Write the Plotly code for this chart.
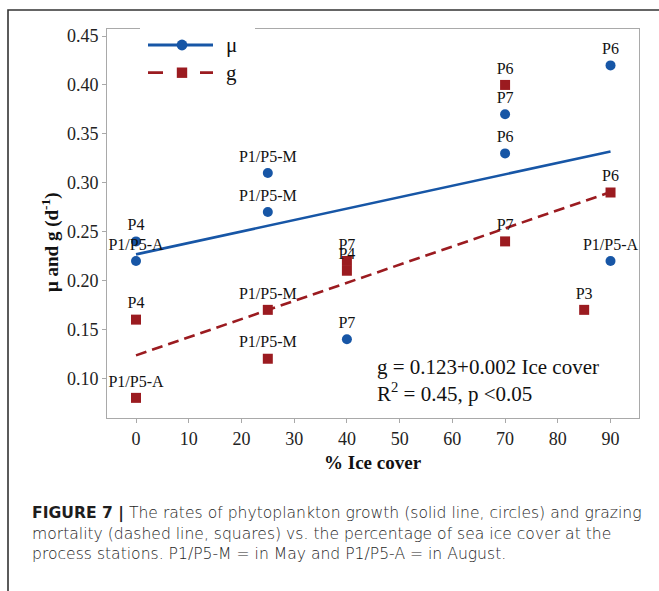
import numpy as np
import plotly.graph_objects as go

# Phytoplankton growth rate (mu, d^-1) vs. % ice cover at the process stations
mu_ice = [0, 0, 25, 25, 40, 70, 70, 90, 90]
mu_rate = [0.24, 0.22, 0.31, 0.27, 0.14, 0.37, 0.33, 0.42, 0.22]
mu_station = ["P4", "P1/P5-A", "P1/P5-M", "P1/P5-M", "P7", "P7", "P6", "P6", "P1/P5-A"]

# Grazing mortality rate (g, d^-1) vs. % ice cover
g_ice = [0, 0, 25, 25, 40, 40, 70, 70, 85, 90]
g_rate = [0.16, 0.08, 0.17, 0.12, 0.22, 0.21, 0.40, 0.24, 0.17, 0.29]
g_station = ["P4", "P1/P5-A", "P1/P5-M", "P1/P5-M", "P7", "P4", "P6", "P7", "P3", "P6"]

x_ticks = [0, 10, 20, 30, 40, 50, 60, 70, 80, 90]
y_ticks = [0.10, 0.15, 0.20, 0.25, 0.30, 0.35, 0.40, 0.45]

caption_lines = [
    "<b>FIGURE 7 |</b> The rates of phytoplankton growth (solid line, circles) and grazing",
    "mortality (dashed line, squares) vs. the percentage of sea ice cover at the",
    "process stations. P1/P5-M = in May and P1/P5-A = in August.",
]

BLUE = "#1756a6"
RED = "#9b1b20"
SERIF = "Liberation Serif, Times New Roman, serif"
SANS = "DejaVu Sans, Liberation Sans, Arial, sans-serif"

# Figure and plot-box geometry (pixels)
W, H = 659, 591
L, R, T, B = 107, 639, 29, 418


def px(x):
    return (x - L) / (R - L)


def py(y):
    return (B - y) / (B - T)


# Least-squares fits
mu_slope, mu_int = np.polyfit(mu_ice, mu_rate, 1)
g_slope, g_int = np.polyfit(g_ice, g_rate, 1)
g_r2 = np.corrcoef(g_ice, g_rate)[0, 1] ** 2

mu_fit_x = np.array([min(mu_ice), max(mu_ice)])
g_fit_x = np.array([min(g_ice), max(g_ice)])

fig = go.Figure()

fig.add_trace(go.Scatter(
    x=mu_fit_x, y=mu_int + mu_slope * mu_fit_x, mode="lines",
    line=dict(color=BLUE, width=2.6), hoverinfo="skip"))
fig.add_trace(go.Scatter(
    x=g_fit_x, y=g_int + g_slope * g_fit_x, mode="lines",
    line=dict(color=RED, width=2.6, dash="11px,6px"), hoverinfo="skip"))

fig.add_trace(go.Scatter(
    x=mu_ice, y=mu_rate, text=mu_station, mode="markers+text",
    textposition="top center", textfont=dict(family=SERIF, size=16, color="#111"),
    marker=dict(symbol="circle", size=10, color=BLUE), name="μ"))
fig.add_trace(go.Scatter(
    x=g_ice, y=g_rate, text=g_station, mode="markers+text",
    textposition="top center", textfont=dict(family=SERIF, size=16, color="#111"),
    marker=dict(symbol="square", size=10, color=RED), name="g"))

axis_common = dict(
    showline=True, linecolor="#a9a9a9", linewidth=1, mirror=True,
    ticks="outside", ticklen=4, tickcolor="#a9a9a9", tickwidth=1,
    showgrid=False, zeroline=False,
    tickfont=dict(family=SERIF, size=18, color="#222"),
)

fig.update_xaxes(range=[-5.5, 95.4], tickvals=x_ticks,
                 ticktext=[str(v) for v in x_ticks], **axis_common)
fig.update_yaxes(range=[0.0594, 0.4572], tickvals=y_ticks,
                 ticktext=[f"{v:.2f}" for v in y_ticks], **axis_common)

shapes = []
# outer figure frame (top and left edges visible)
shapes.append(dict(type="rect", xref="paper", yref="paper",
                   x0=px(8), x1=px(W + 40), y0=py(10), y1=py(H + 40),
                   line=dict(color="#333333", width=1.6), layer="above"))

# legend: white backing box, line samples and markers
shapes.append(dict(type="rect", xref="paper", yref="paper",
                   x0=px(140), x1=px(255), y0=py(22), y1=py(88),
                   fillcolor="white", line=dict(width=0), layer="above"))
leg_y1, leg_y2 = py(45), py(72.7)
shapes.append(dict(type="line", xref="paper", yref="paper",
                   x0=px(148), x1=px(213), y0=leg_y1, y1=leg_y1,
                   line=dict(color=BLUE, width=2.8), layer="above"))
shapes.append(dict(type="line", xref="paper", yref="paper",
                   x0=px(148), x1=px(213), y0=leg_y2, y1=leg_y2,
                   line=dict(color=RED, width=2.8, dash="15px,37px"), layer="above"))
shapes.append(dict(type="circle", xref="paper", yref="paper",
                   xsizemode="pixel", ysizemode="pixel",
                   xanchor=px(182), yanchor=leg_y1, x0=-5.4, x1=5.4, y0=-5.4, y1=5.4,
                   fillcolor=BLUE, line=dict(width=0), layer="above"))
shapes.append(dict(type="rect", xref="paper", yref="paper",
                   xsizemode="pixel", ysizemode="pixel",
                   xanchor=px(182), yanchor=leg_y2, x0=-5.2, x1=5.2, y0=-5.2, y1=5.2,
                   fillcolor=RED, line=dict(width=0), layer="above"))

annotations = [
    dict(text="μ", x=px(224), y=leg_y1, xref="paper", yref="paper",
         xanchor="left", yanchor="middle", showarrow=False,
         font=dict(family=SERIF, size=21, color="#111")),
    dict(text="g", x=px(224), y=leg_y2, xref="paper", yref="paper",
         xanchor="left", yanchor="middle", showarrow=False,
         font=dict(family=SERIF, size=21, color="#111")),
    # regression statement for g
    dict(text=f"g = {g_int:.3f}+{g_slope:.3f} Ice cover", x=px(375), y=py(366.5),
         xref="paper", yref="paper", xanchor="left", yanchor="middle",
         showarrow=False, font=dict(family=SERIF, size=21, color="#111")),
    dict(text=f"R<sup>2</sup> = {g_r2:.2f}, p &lt;0.05", x=px(375), y=py(392.5),
         xref="paper", yref="paper", xanchor="left", yanchor="middle",
         showarrow=False, font=dict(family=SERIF, size=21, color="#111")),
    # axis titles
    dict(text="<b>% Ice cover</b>", x=px(373), y=py(462.5), xref="paper", yref="paper",
         xanchor="center", yanchor="middle", showarrow=False,
         font=dict(family=SERIF, size=19, color="#111")),
    dict(text="<b>μ and g (d<sup>-1</sup>)</b>", x=px(50), y=py(243), xref="paper",
         yref="paper", xanchor="center", yanchor="middle", textangle=-90,
         showarrow=False, font=dict(family=SERIF, size=19, color="#111")),
]

# caption, one annotation per line
for line_text, y_px in zip(caption_lines, [513, 534, 554]):
    annotations.append(dict(
        text=line_text, x=px(30), y=py(y_px), xref="paper", yref="paper",
        xanchor="left", yanchor="middle", align="left", showarrow=False,
        font=dict(family=SANS, size=15.6, color="#1e1e1e", weight=300)))

fig.update_layout(
    width=W, height=H,
    margin=dict(l=L, r=W - R, t=T, b=H - B, pad=0),
    paper_bgcolor="white", plot_bgcolor="white",
    showlegend=False,
    shapes=shapes, annotations=annotations,
)

fig.write_html("out.html")
